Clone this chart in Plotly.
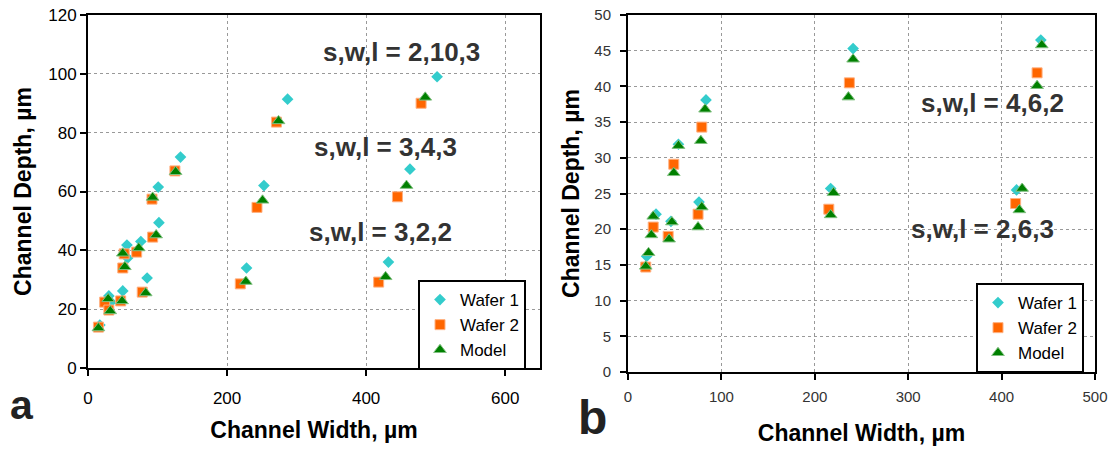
import plotly.graph_objects as go

# ---------------- data: panel a ----------------
a_w1_x = [17, 30, 33, 50, 57, 56, 76, 85, 102, 101, 133, 228, 253, 287, 432, 463, 502]
a_w1_y = [14.6, 24.5, 22.4, 26.2, 37.4, 41.8, 43.0, 30.6, 49.4, 61.5, 71.7, 34.0, 62.0, 91.4, 36.0, 67.6, 99.0]
a_w2_x = [15, 24, 30, 47, 50, 52, 70, 78, 93, 92, 125, 219, 243, 271, 418, 445, 479]
a_w2_y = [13.9, 22.4, 19.7, 22.8, 34.0, 38.8, 39.4, 25.8, 44.5, 57.4, 67.0, 28.6, 54.6, 83.6, 29.2, 58.2, 90.0]
a_md_x = [15, 29, 32, 49, 53, 50, 73, 83, 98, 93, 126, 227, 251, 274, 428, 458, 485]
a_md_y = [13.6, 23.5, 19.4, 22.8, 34.4, 39.0, 40.8, 25.5, 45.2, 58.0, 66.7, 29.4, 57.0, 84.0, 31.0, 62.0, 92.0]

# ---------------- data: panel b ----------------
b_w1_x = [20, 30, 46, 54, 76, 83.5, 217, 241, 416, 442]
b_w1_y = [16.2, 22.1, 21.1, 31.9, 23.8, 38.1, 25.7, 45.3, 25.5, 46.5]
b_w2_x = [19, 27, 43, 49, 75, 79, 215, 237, 415, 438]
b_w2_y = [14.7, 20.3, 19.0, 29.1, 22.1, 34.3, 22.8, 40.5, 23.6, 41.9]
b_md_x = [22, 19, 27, 25, 47, 44, 54, 49, 79, 75, 82.5, 78, 220, 217, 241, 236, 422, 419, 443, 438]
b_md_y = [16.7, 14.8, 21.8, 19.2, 21.0, 18.6, 31.7, 27.9, 23.1, 20.3, 36.8, 32.4, 25.1, 22.0, 43.8, 38.5, 25.7, 22.7, 45.8, 40.1]

series_names = ["Wafer 1", "Wafer 2", "Model"]
a_labels = ["s,w,l = 2,10,3", "s,w,l = 3,4,3", "s,w,l = 3,2,2"]
a_label_x = [451, 428, 420]
a_label_y = [107.4, 75, 46.2]
b_labels = ["s,w,l = 4,6,2", "s,w,l = 2,6,3"]
b_label_x = [390, 380]
b_label_y = [37.7, 20]

FONT = "Liberation Sans, Arial, sans-serif"
CYAN = "#33CCCC"
ORANGE = "#FF6600"
GREEN = "#008000"

styles = [
    dict(symbol="diamond", size=9, color=CYAN, line=dict(width=0)),
    dict(symbol="square", size=10, color=ORANGE, line=dict(width=1, color="#FFB080")),
    dict(symbol="triangle-up", size=11, color=GREEN, line=dict(width=1, color="#80C080")),
]

fig = go.Figure()
for name, xs, ys, st in zip(series_names, [a_w1_x, a_w2_x, a_md_x], [a_w1_y, a_w2_y, a_md_y], styles):
    fig.add_trace(go.Scatter(x=xs, y=ys, mode="markers", name=name, marker=st,
                             xaxis="x", yaxis="y", legend="legend"))
for name, xs, ys, st in zip(series_names, [b_w1_x, b_w2_x, b_md_x], [b_w1_y, b_w2_y, b_md_y], styles):
    fig.add_trace(go.Scatter(x=xs, y=ys, mode="markers", name=name, marker=st,
                             xaxis="x2", yaxis="y2", legend="legend2"))

W, H = 1111, 449
ML, MR, MT, MB = 88, 16, 15, 77
PW = W - ML - MR
PH = H - MT - MB


def px_x(p):
    return (p - ML) / PW


def px_y(p):
    return (H - MB - p) / PH


grid = dict(showgrid=True, gridcolor="#999999", griddash="dot", gridwidth=1,
            showline=True, linecolor="black", linewidth=2, mirror=True,
            ticks="outside", ticklen=6, tickwidth=2, tickcolor="black",
            zeroline=False, automargin=False)

title_font = dict(family=FONT, size=23, color="black")

fig.update_layout(
    width=W, height=H,
    margin=dict(l=ML, r=MR, t=MT, b=MB, autoexpand=False),
    paper_bgcolor="white", plot_bgcolor="white",
    font=dict(family=FONT),
    xaxis=dict(domain=[0, px_x(540)], range=[0, 650], dtick=200, anchor="y",
               tickfont=dict(family=FONT, size=17, color="black"), ticklabelstandoff=8,
               title=dict(text="<b>Channel Width, µm</b>", font=title_font, standoff=14), **grid),
    yaxis=dict(domain=[px_y(368), 1], range=[0, 120], dtick=20, anchor="x",
               tickfont=dict(family=FONT, size=17, color="black"),
               title=dict(text="<b>Channel Depth, µm</b>", font=title_font, standoff=10), **grid),
    xaxis2=dict(domain=[px_x(628), 1], range=[0, 500], dtick=100, anchor="y2",
                tickfont=dict(family=FONT, size=15, color="#333333"), ticklabelstandoff=4,
                title=dict(text="<b>Channel Width, µm</b>", font=title_font, standoff=21), **grid),
    yaxis2=dict(domain=[0, 1], range=[0, 50], dtick=5, anchor="x2",
                tickfont=dict(family=FONT, size=15, color="#333333"), ticklabelstandoff=6,
                title=dict(text="<b>Channel Depth, µm</b>", font=title_font, standoff=8), **grid),
    legend=dict(x=px_x(526), y=px_y(280), xanchor="right", yanchor="top",
                bordercolor="black", borderwidth=2, bgcolor="white",
                font=dict(family=FONT, size=17, color="black"), itemwidth=30,
                tracegroupgap=0),
    legend2=dict(x=px_x(1084), y=px_y(283), xanchor="right", yanchor="top",
                 bordercolor="black", borderwidth=2, bgcolor="white",
                 font=dict(family=FONT, size=17, color="black"), itemwidth=30,
                 tracegroupgap=0),
    showlegend=True,
)

ann = []
for t, x, y in zip(a_labels, a_label_x, a_label_y):
    ann.append(dict(text="<b>" + t + "</b>", x=x, y=y, xref="x", yref="y", showarrow=False,
                    font=dict(family=FONT, size=26, color="#333333")))
for t, x, y in zip(b_labels, b_label_x, b_label_y):
    ann.append(dict(text="<b>" + t + "</b>", x=x, y=y, xref="x2", yref="y2", showarrow=False,
                    font=dict(family=FONT, size=26, color="#333333")))
ann.append(dict(text="<b>a</b>", x=px_x(8), y=px_y(430), xref="paper", yref="paper",
                xanchor="left", showarrow=False, font=dict(family=FONT, size=41, color="#222222")))
ann.append(dict(text="<b>b</b>", x=px_x(592), y=px_y(446), xref="paper", yref="paper",
                showarrow=False, font=dict(family=FONT, size=48, color="#222222")))
fig.update_layout(annotations=ann)

fig.write_html("out.html")
